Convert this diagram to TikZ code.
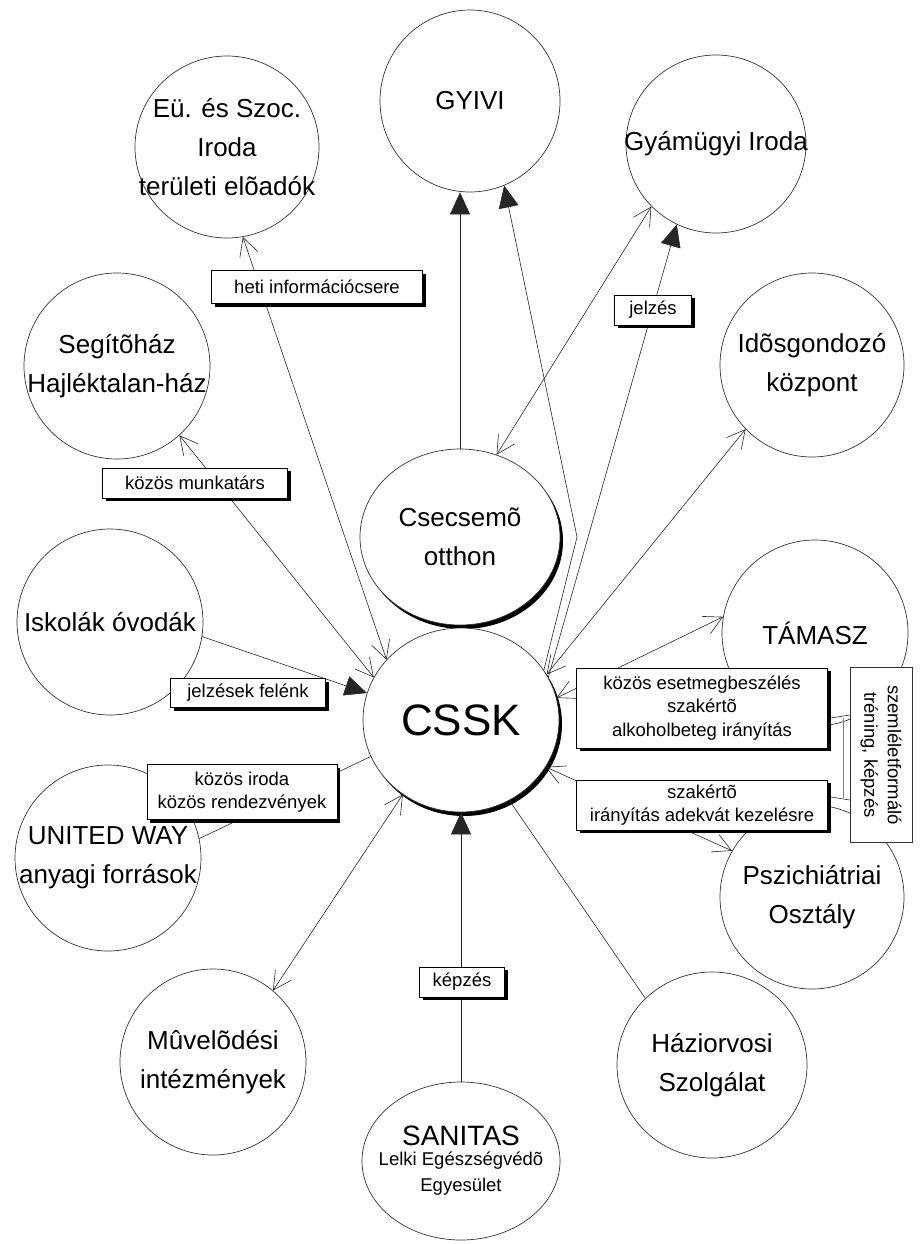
\documentclass[tikz,border=0pt]{standalone}
\usepackage{fontspec}
\setmainfont{Liberation Sans}
\usetikzlibrary{shapes.geometric,arrows.meta,shadows,calc}
\begin{document}
\begin{tikzpicture}[x=1pt,y=-1pt,
  circ/.style={ellipse, draw=black!80, line width=0.7pt, fill=white, inner sep=0pt},
  shad/.style={drop shadow={shadow xshift=3pt, shadow yshift=-4pt, fill=black, opacity=1}},
  ctext/.style={align=center, font=\fontsize{26}{39}\selectfont, inner sep=0pt},
  lbl/.style={draw=black, line width=0.6pt, fill=white, align=center, inner sep=0pt,
    font=\fontsize{18.5}{23.5}\selectfont,
    drop shadow={shadow xshift=3pt, shadow yshift=-3pt, fill=black, opacity=1}},
  conn/.style={line width=0.6pt, draw=black!85},
  twoway/.style={conn, {Straight Barb[length=18pt,width=19pt]}-{Straight Barb[length=18pt,width=19pt]}},
  tobig/.style={conn, -{Triangle[length=22pt,width=20pt]}}
]
\useasboundingbox (0,0) rectangle (920,1244);

% circles
\node[circ, minimum width=184pt, minimum height=182pt] (eu) at (227,147) {};
\node[circ, minimum width=180pt, minimum height=182pt] (gyivi) at (470,101) {};
\node[circ, minimum width=180pt, minimum height=178pt] (gyam) at (716,144) {};
\node[circ, minimum width=186pt, minimum height=186pt] (segito) at (117,366) {};
\node[circ, minimum width=184pt, minimum height=184pt] (idos) at (812,365) {};
\node[circ, shad, minimum width=200pt, minimum height=176pt] (csecs) at (460,537) {};
\node[circ, shad, minimum width=196pt, minimum height=184pt] (cssk) at (461,720) {};
\node[circ, minimum width=186pt, minimum height=186pt] (tamasz) at (815,633) {};
\node[circ, minimum width=186pt, minimum height=186pt] (iskola) at (110,622) {};
\node[circ, minimum width=186pt, minimum height=186pt] (united) at (108,858) {};
\node[circ, minimum width=184pt, minimum height=184pt] (psz) at (812,897) {};
\node[circ, minimum width=186pt, minimum height=186pt] (muv) at (213,1062) {};
\node[circ, minimum width=198pt, minimum height=158pt] (sanitas) at (461,1161) {};
\node[circ, minimum width=190pt, minimum height=186pt] (hazi) at (712,1065) {};

% circle texts
\node[ctext] at (eu) {Eü. és Szoc.\\Iroda\\területi elõadók};
\node[ctext] at (gyivi) {GYIVI};
\node[ctext] at (gyam) {Gyámügyi Iroda};
\node[ctext] at (segito) {Segítõház\\Hajléktalan-ház};
\node[ctext] at (idos) {Idõsgondozó\\központ};
\node[ctext] at (csecs) {Csecsemõ\\otthon};
\node[ctext, font=\fontsize{44}{46}\selectfont] at (cssk) {CSSK};
\node[ctext] at (tamasz) {TÁMASZ};
\node[ctext] at (iskola) {Iskolák óvodák};
\node[ctext] at (united) {UNITED WAY\\anyagi források};
\node[ctext] at (psz) {Pszichiátriai\\Osztály};
\node[ctext] at (muv) {Mûvelõdési\\intézmények};
\node[ctext] at (hazi) {Háziorvosi\\Szolgálat};
\node[anchor=base, inner sep=0pt, font=\fontsize{28}{30}\selectfont] (sanA) at (461,1145) {SANITAS};
\node[anchor=base, inner sep=0pt, font=\fontsize{18.5}{22}\selectfont] (sanB) at (461,1165) {Lelki Egészségvédõ};
\node[anchor=base, inner sep=0pt, font=\fontsize{18.5}{22}\selectfont] (sanC) at (461,1191) {Egyesület};

% connectors
\coordinate (kink) at (577,537);
\draw[twoway] (eu.-80) -- (cssk.141);
\draw[twoway] (segito.-48) -- (cssk.154);
\draw[tobig] (iskola.-9) -- (cssk.164);
\draw[conn] (cssk.202) -- (united.12);
\draw[twoway] (muv.50) -- (cssk.232);
\draw[conn] (hazi.135) -- (cssk.-59);
\draw[tobig] (sanitas.north) -- (cssk.south);
\draw[twoway] (psz.150) -- (cssk.-29);
\draw[twoway] (tamasz.170) -- (cssk.13);
\draw[twoway] (idos.224) -- (cssk.28);
\draw[tobig] (cssk.26) -- (gyam.244);
\draw[tobig] (cssk.31) -- (kink) -- (gyivi.-68);
\draw[twoway] (gyam.224) -- (csecs.66);
\draw[tobig] (csecs.north) -- (csecs.north |- gyivi.south);

% labels
\node[lbl, minimum width=211pt, minimum height=33pt] (heti) at (317,287) {heti információcsere};
\node[lbl, minimum width=185pt, minimum height=30pt] (munk) at (195,483) {közös munkatárs};
\node[lbl, minimum width=155pt, minimum height=29pt] (jelf) at (248,693) {jelzések felénk};
\node[lbl, minimum width=190pt, minimum height=55pt] (iroda) at (242,792) {közös iroda\\közös rendezvények};
\node[lbl, minimum width=77pt, minimum height=30pt] (jelzes) at (653,310) {jelzés};
\node[lbl, minimum width=85pt, minimum height=30pt] (kepzes) at (462,982) {képzés};
\node[lbl, minimum width=251pt, minimum height=80pt] (b1) at (702,708) {közös esetmegbeszélés\\szakértõ\\alkoholbeteg irányítás};
\node[lbl, minimum width=251pt, minimum height=50pt] (b2) at (702,805) {szakértõ\\irányítás adekvát kezelésre};
\node[draw=black!80, line width=0.6pt, fill=white, minimum width=62pt, minimum height=175pt, inner sep=0pt] (vb) at (881,755) {};
\node[rotate=-90, align=center, inner sep=0pt, font=\fontsize{18.5}{23.5}\selectfont] at (vb.center) {szemléletformáló\\tréning, képzés};

\draw[conn] ($(b1.east)+(3,10)$) -- ($(vb.west |- b1.east)+(0,7)$);
\draw[conn] ($(b2.east)+(3,-8)$) -- ($(vb.west |- b2.east)+(0,-5)$);
\draw[conn, draw=black!50] ($(b1.east)+(15,10)$) -- ($(b2.east)+(15,-7)$);
\end{tikzpicture}
\end{document}
